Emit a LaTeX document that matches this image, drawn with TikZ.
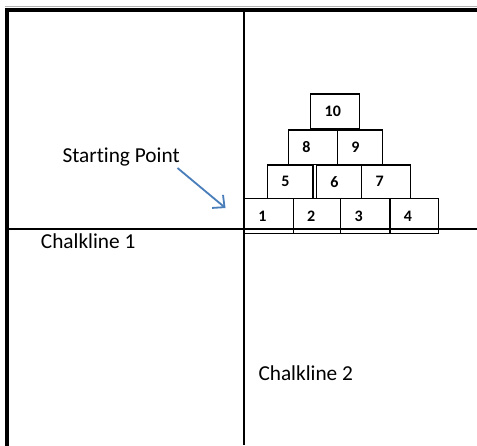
\documentclass[tikz,border=0pt]{standalone}
\usepackage{fontspec}
\setmainfont{Carlito}[Ligatures=NoCommon]
\usetikzlibrary{arrows.meta}
\definecolor{arrowblue}{HTML}{4A7EBB}
\tikzset{
  x=1pt, y=-1pt,
  frameline/.style={line width=4pt, line cap=rect},
  chalk/.style={line width=1.6pt},
  brick/.style={draw, line width=1.3pt, inner xsep=14pt, inner ysep=0pt,
    align=left, anchor=north west, font=\fontsize{16}{16}\selectfont\bfseries},
  lbl/.style={anchor=base west, inner sep=0pt, font=\fontsize{21.3}{21.3}\selectfont},
  pointer/.style={draw=arrowblue, line width=1.8pt, -{Straight Barb[length=9pt,width=17pt,line width=1.8pt]}}
}
\begin{document}
\begin{tikzpicture}
\useasboundingbox (0,0) rectangle (477,445);
% page edge
\draw[gray!60, line width=1.2pt] (4.7,6.8) -- (477,6.8);
% thick frame
\coordinate (tl) at (6.7,9.7);
\coordinate (tr) at (477,9.7);
\coordinate (bl) at (6.7,445);
\draw[frameline] (tr) -- (tl) -- (bl);
% chalklines
\coordinate (vt) at (244,9.7);
\coordinate (vb) at (244,445);
\coordinate (hl) at (6.7,229);
\coordinate (hr) at (477,229);
\draw[chalk] (vt) -- (vb);
\draw[chalk] (hl) -- (hr);
% bricks row 1
\node[brick, text width=21pt, minimum height=34.5pt] (b1) at (243.8,198) {1};
\node[brick, text width=19.5pt, minimum height=34.5pt] (b2) at (292.5,198) {2};
\node[brick, text width=21.3pt, minimum height=34.5pt] (b3) at (340,198) {3};
\node[brick, text width=20.7pt, minimum height=34.5pt] (b4) at (389.3,198) {4};
% row 2
\node[brick, text width=17.6pt, minimum height=33.4pt] (b5) at (266.7,164.3) {5};
\node[brick, text width=17.3pt, minimum height=33.4pt] (b6) at (315.7,164.3) {6};
\node[brick, text width=21pt, minimum height=33.4pt] (b7) at (361,164.3) {7};
% row 3
\node[brick, text width=21pt, minimum height=34.7pt] (b8) at (287.7,129.3) {8};
\node[brick, text width=17pt, minimum height=34.7pt] (b9) at (336.7,129.3) {9};
% row 4
\node[brick, text width=21pt, minimum height=35pt] (b10) at (310,93.3) {10};
% labels
\node[lbl] (sp) at (62.3,162.3) {Starting Point};
\node[lbl] (c1) at (40.7,248.3) {Chalkline 1};
\node[lbl] (c2) at (258.3,380.7) {Chalkline 2};
% arrow
\coordinate (as) at (177.5,168);
\coordinate (ae) at (225.5,208);
\draw[pointer] (as) -- (ae);
\end{tikzpicture}
\end{document}
